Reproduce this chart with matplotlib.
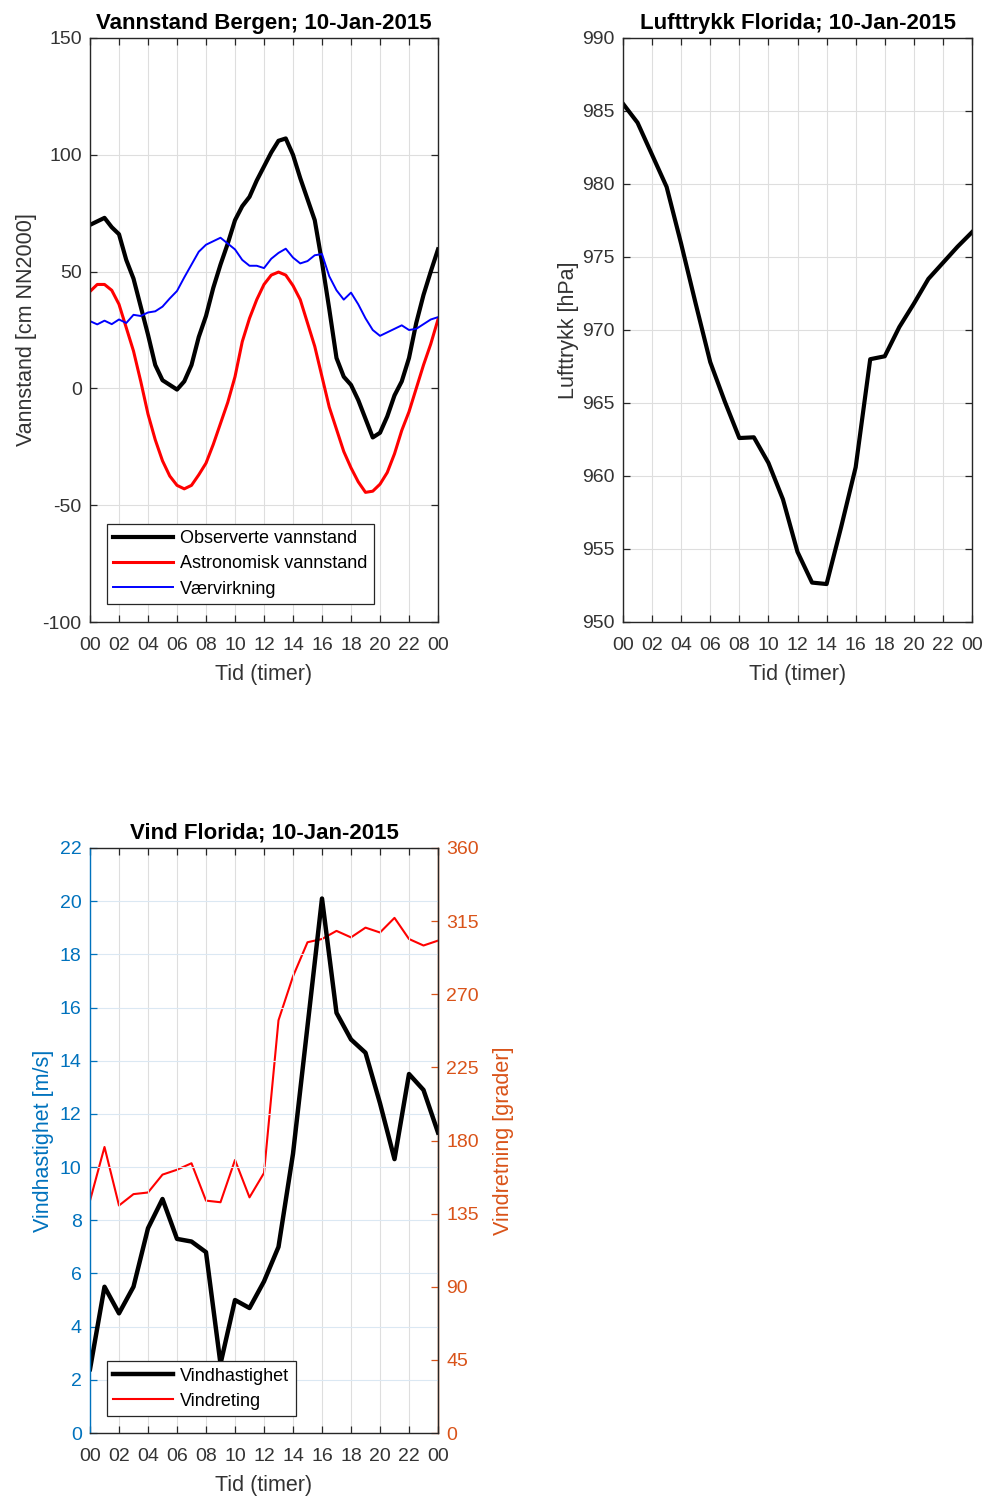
import matplotlib
matplotlib.use("Agg")
import matplotlib.pyplot as plt
import numpy as np

plt.rcParams['font.family'] = ['Liberation Sans', 'DejaVu Sans']
plt.rcParams['axes.unicode_minus'] = False

# ---------------- data ----------------
hours_half = [i * 0.5 for i in range(49)]
observed = [70, 71.5, 73, 69, 66, 55, 47, 35, 23, 10, 3.5, 1.5, -0.5, 3, 10, 22,
            31, 43, 53, 62, 72, 78, 82, 89, 95, 101, 106, 107, 100, 90, 81, 72,
            54, 34, 13, 5, 1.5, -5, -13, -21, -19, -12, -3, 3, 13, 28, 40, 50, 59.5]
astronomic = [41.5, 44.5, 44.5, 42, 36, 26, 16, 3, -11, -22, -31, -37.5, -41.5, -43,
              -41.5, -37, -32, -24, -15, -6, 5, 20, 30, 38, 44.5, 48.5, 49.8, 48.5,
              44, 38, 28, 18, 5, -8, -17.5, -27, -34, -40, -44.5, -44, -41, -36, -28,
              -18, -10, 0, 10, 19, 29.5]
weather = [28.8, 27.4, 29, 27.5, 29.5, 28, 31.5, 31, 32.5, 33, 35, 38.5, 41.7, 47.5,
           53, 58.5, 61.5, 63, 64.5, 62, 59.5, 55, 52.5, 52.5, 51.5, 55.5, 58, 59.8,
           56, 53.5, 54.5, 57, 57.5, 48, 42, 38, 41, 36, 30, 25, 22.5, 24, 25.5, 27,
           25, 25.5, 27.5, 29.5, 30.5]

hours = list(range(25))
pressure = [985.5, 984.2, 982.0, 979.8, 975.9, 971.8, 967.8, 965.1, 962.6, 962.65,
            960.9, 958.4, 954.8, 952.7, 952.6, 956.5, 960.6, 968.0, 968.2, 970.2,
            971.8, 973.5, 974.6, 975.7, 976.7]
wind_speed = [2.4, 5.5, 4.5, 5.5, 7.7, 8.8, 7.3, 7.2, 6.8, 2.6, 5.0, 4.7, 5.7, 7.0,
              10.5, 15.3, 20.1, 15.8, 14.8, 14.3, 12.4, 10.3, 13.5, 12.9, 11.3]
wind_dir = [143, 176, 140, 147, 148, 159, 162, 166, 143, 142, 168, 145, 160, 254,
            281, 302, 304, 309, 305, 311, 308, 317, 304, 300, 303]

xtick_pos = list(range(0, 25, 2))
xtick_lab = ["%02d" % (h % 24) for h in xtick_pos]

# ---------------- style ----------------
W, H = 986, 1497
fig = plt.figure(figsize=(W / 100, H / 100), dpi=100)
AX_C = '#262626'
TXT_C = '#333333'
GRID_C = '#dedede'
BLUE_AX = '#0072BD'
ORANGE_AX = '#D95319'
TICK_FS = 14
LAB_FS = 15.5
TITLE_FS = 16
TITLE_PAD = 6.5


def frac(x0, y0, x1, y1):
    return [x0 / W, 1 - y1 / H, (x1 - x0) / W, (y1 - y0) / H]


def style(ax, right=True):
    for s in ax.spines.values():
        s.set_color(AX_C)
        s.set_linewidth(1.0)
    ax.tick_params(direction='in', length=5, width=0.9, colors=AX_C,
                   labelsize=TICK_FS, top=True, right=right, pad=6)
    ax.tick_params(axis='x', pad=11)
    ax.tick_params(axis='both', labelcolor=TXT_C)
    ax.set_xlim(0, 24)
    ax.set_xticks(xtick_pos)
    ax.set_xticklabels(xtick_lab)
    ax.grid(True, color=GRID_C, linewidth=0.8)
    ax.set_axisbelow(True)
    ax.set_xlabel('Tid (timer)', fontsize=LAB_FS, color=TXT_C, labelpad=7)


def legend_style(leg):
    leg.get_frame().set_edgecolor(AX_C)
    leg.get_frame().set_linewidth(0.9)


# ---- panel 1 ----
ax1 = fig.add_axes(frac(90, 38, 438, 622))
style(ax1)
ax1.plot(hours_half, observed, color='black', lw=3.0, label='Observerte vannstand',
         solid_joinstyle='round')
ax1.plot(hours_half, astronomic, color='red', lw=2.2, label='Astronomisk vannstand',
         solid_joinstyle='round')
ax1.plot(hours_half, weather, color='blue', lw=1.4, label='Værvirkning',
         solid_joinstyle='round')
ax1.set_ylim(-100, 150)
ax1.set_yticks(range(-100, 151, 50))
ax1.set_ylabel('Vannstand [cm NN2000]', fontsize=LAB_FS, color=TXT_C, labelpad=4)
ax1.set_title('Vannstand Bergen; 10-Jan-2015', fontsize=TITLE_FS, fontweight='bold',
              pad=TITLE_PAD)
leg = ax1.legend(loc='lower left', bbox_to_anchor=(0.049, 0.031), borderaxespad=0,
                 fontsize=13, frameon=True, fancybox=False, handlelength=3.3,
                 labelspacing=0.45, borderpad=0.35, handletextpad=0.4, framealpha=1)
legend_style(leg)

# ---- panel 2 ----
ax2 = fig.add_axes(frac(623, 38, 972, 622))
style(ax2)
ax2.plot(hours, pressure, color='black', lw=3.0)
ax2.set_ylim(950, 990)
ax2.set_yticks(range(950, 991, 5))
ax2.set_ylabel('Lufttrykk [hPa]', fontsize=LAB_FS, color=TXT_C, labelpad=2)
ax2.set_title('Lufttrykk Florida; 10-Jan-2015', fontsize=TITLE_FS, fontweight='bold',
              pad=TITLE_PAD)

# ---- panel 3 ----
ax3 = fig.add_axes(frac(90, 848, 438, 1433))
style(ax3, right=False)
ax3.grid(False)
ax3.xaxis.grid(True, color=GRID_C, linewidth=0.8)
ax3.yaxis.grid(True, color='#dbe8f3', linewidth=0.8)
ax3.spines['left'].set_color(BLUE_AX)
ax3.tick_params(axis='y', colors=BLUE_AX, labelcolor=BLUE_AX)
l1, = ax3.plot(hours, wind_speed, color='black', lw=3.2, label='Vindhastighet')
ax3.set_ylim(0, 22)
ax3.set_yticks(range(0, 23, 2))
ax3.set_ylabel('Vindhastighet [m/s]', fontsize=LAB_FS, color=BLUE_AX, labelpad=4)
ax3.set_title('Vind Florida; 10-Jan-2015', fontsize=TITLE_FS, fontweight='bold',
              pad=TITLE_PAD)

ax4 = ax3.twinx()
ax4.set_position(ax3.get_position())
for s in ax4.spines.values():
    s.set_visible(False)
ax4.spines['right'].set_visible(True)
ax4.spines['right'].set_color(ORANGE_AX)
ax4.spines['right'].set_linewidth(1.0)
l2, = ax4.plot(hours, wind_dir, color='red', lw=1.5, label='Vindreting')
ax4.set_ylim(0, 360)
ax4.set_yticks(range(0, 361, 45))
ax4.tick_params(axis='y', direction='in', length=5, width=0.9, colors=ORANGE_AX,
                labelcolor=ORANGE_AX, labelsize=TICK_FS, pad=6)
ax4.set_ylabel('Vindretning [grader]', fontsize=LAB_FS, color=ORANGE_AX, labelpad=10)
ax4.set_xlim(0, 24)
ax3.set_zorder(ax4.get_zorder() + 1)
ax3.patch.set_visible(False)
leg2 = ax3.legend(handles=[l1, l2], loc='lower left', bbox_to_anchor=(0.049, 0.029),
                  borderaxespad=0, fontsize=13, frameon=True, fancybox=False,
                  handlelength=3.3, labelspacing=0.45, borderpad=0.35, handletextpad=0.4,
                  framealpha=1)
legend_style(leg2)

fig.savefig('out.png', dpi=100)
